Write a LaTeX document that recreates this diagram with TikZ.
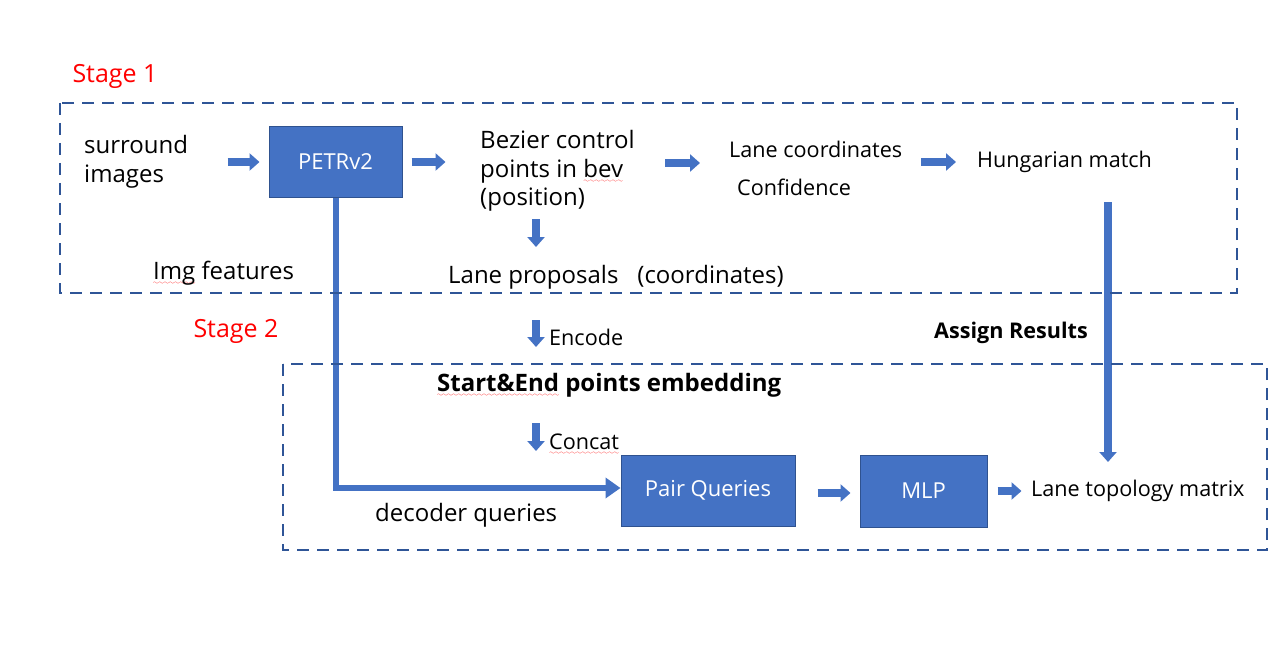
\documentclass[tikz,border=0pt]{standalone}
\usepackage{fontspec}
\setmainfont{Open Sans}
\usepackage{tikz}
\usetikzlibrary{positioning}
\usetikzlibrary{arrows.meta}
\definecolor{boxblue}{RGB}{68,114,196}
\definecolor{edgeblue}{RGB}{47,82,143}
\definecolor{dashblue}{RGB}{47,85,151}
\font\wavefont=lasy6
\newcommand\spellwave[1]{\leavevmode\setbox0\hbox{#1}%
  \rlap{\raisebox{-5.5pt}{\color{red}\hbox to \wd0{\xleaders\hbox{\wavefont\char58}\hfill}}}\box0\relax}

\begin{document}
\begin{tikzpicture}[x=1pt,y=-1pt,
    txt/.style={inner sep=0pt,yshift=-2pt,font=\fontsize{24}{28.5}\selectfont},
    sml/.style={inner sep=0pt,yshift=-1pt,font=\fontsize{21.6}{26}\selectfont},
    blockbox/.style={fill=boxblue,draw=edgeblue,line width=1pt,text=white,
        font=\fontsize{22}{26}\selectfont},
    blk/.style={draw=boxblue,line width=8pt,-{Triangle[length=10pt,width=17pt]}},
    trunk/.style={draw=boxblue,line width=6pt,-{Triangle[length=15pt,width=20pt]}},
    stagebox/.style={draw=dashblue,line width=2.8pt,dash pattern=on 12pt off 8pt},
    stagelbl/.style={text=red,inner sep=0pt,yshift=-1pt,font=\fontsize{25}{30}\selectfont}]
\useasboundingbox (0,0) rectangle (1273,647);

% stage 1
\node[stagelbl] (st1) at (115,75) {Stage 1};
\node[txt,align=left,anchor=west] (surr) at (84,160) {surround\\images};
\node[blockbox,minimum width=133pt,minimum height=70pt] (pet) at (335.5,162) {PETRv2};
\node[txt,align=left,anchor=west] (bez) at (480,169) {Bezier control\\points in \spellwave{bev}\\(position)};
\node[sml,anchor=west] (lc) at (729,148) {Lane coordinates};
\node[sml,anchor=west] (conf) at (737,186) {Confidence};
\node[sml,anchor=west] (hung) at (977,161) {Hungarian match};
\node[txt,anchor=west] (imgf) at (153,271) {\spellwave{Img} features};
\node[txt,anchor=west] (lp) at (448,275) {Lane proposals\hspace{19pt}(coordinates)};

% between the stages
\node[stagelbl] (st2) at (236,330) {Stage 2};
\node[sml,anchor=west] (enc) at (549,336) {Encode};
\node[sml,anchor=west,font=\fontsize{21.6}{26}\selectfont\bfseries] (asg) at (934,332) {Assign Results};

% stage 2
\node[txt,anchor=west,font=\fontsize{24}{28}\selectfont\bfseries] (se) at (437,383) {\spellwave{Start\&End} points embedding};
\node[sml,anchor=west] (cat) at (549,443) {\spellwave{Concat}};
\node[blockbox,minimum width=174pt,minimum height=71pt] (pq) at (708,490.5) {Pair Queries};
\node[blockbox,minimum width=127pt,minimum height=72pt] (mlp) at (923.5,491) {MLP};
\node[sml,anchor=west] (ltm) at (1031,490) {Lane topology matrix};
\node[txt,anchor=west] (dq) at (375,513) {decoder queries};

% arrows
\draw[blk] ([xshift=-41pt]pet.west) -- ([xshift=-9pt]pet.west);
\draw[blk] ([xshift=9pt]pet.east) -- ([xshift=43pt]pet.east);
\draw[blk] ([shift={(-64,14)}]lc.west) -- ([shift={(-29,14)}]lc.west);
\draw[blk] ([xshift=-56pt]hung.west) -- ([xshift=-21pt]hung.west);
\draw[blk] ([shift={(88,-58)}]lp.west) -- ([shift={(88,-30)}]lp.west);
\draw[blk] ([shift={(-13,-17)}]enc.west) -- ([shift={(-13,10)}]enc.west);
\draw[blk] ([shift={(-13,-21)}]cat.west) -- ([shift={(-13,7)}]cat.west);
\draw[blk] ([shift={(-42,2)}]mlp.west) -- ([shift={(-9,2)}]mlp.west);
\draw[blk] ([xshift=10pt]mlp.east) -- ([xshift=34pt]mlp.east);
\draw[blk] ([shift={(131,40)}]hung.west) -- ([shift={(77,-29)}]ltm.west);
\draw[trunk] (pet.south) |- ([yshift=2.5pt]pq.west);

% dashed stage frames
\draw[stagebox] (60,103) rectangle (1237,293);
\draw[stagebox] (283,364) rectangle (1267,550);
\end{tikzpicture}
\end{document}
